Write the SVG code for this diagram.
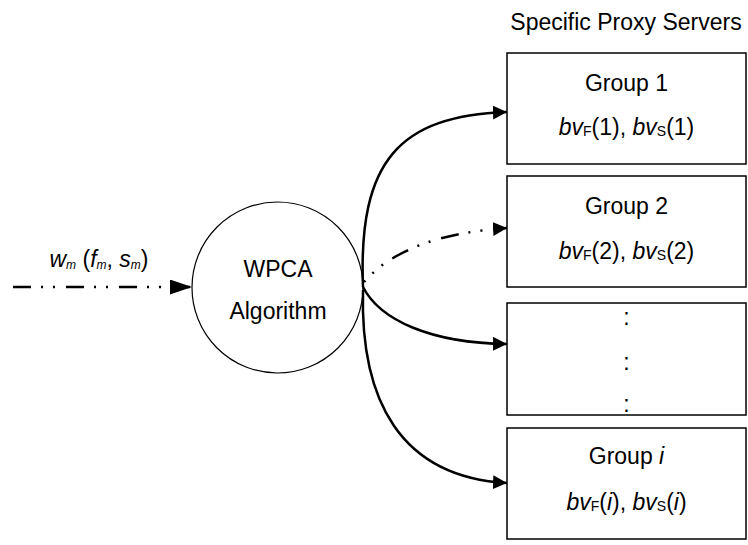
<svg xmlns="http://www.w3.org/2000/svg" width="748" height="545" viewBox="0 0 748 545">
<style>
text{font-family:"Liberation Sans",Arial,sans-serif;fill:#000;font-size:23px}
.c{text-anchor:middle}
.it{font-style:italic}
.sub{font-size:14px}
.sm{font-size:12px;font-style:italic}
.box{fill:#fff;stroke:#000;stroke-width:1.5}
.cv{fill:none;stroke:#000;stroke-width:2.5}
.dd{stroke-dasharray:18 10 2 10 2 11}
</style>
<defs>
<marker id="ah" viewBox="0 0 14 14" refX="14" refY="7" markerWidth="14" markerHeight="14" markerUnits="userSpaceOnUse" orient="auto">
<path d="M0,0 L14,7 L0,14 Z" fill="#000"/>
</marker>
<marker id="ahbig" viewBox="0 0 22 15" refX="22" refY="7.5" markerWidth="22" markerHeight="15" markerUnits="userSpaceOnUse" orient="auto">
<path d="M0,0 L22,7.5 L0,15 Z" fill="#000"/>
</marker>
</defs>
<text x="626" y="30" class="c">Specific Proxy Servers</text>
<g id="input">
<text x="99" y="267" class="c"><tspan class="it">w</tspan><tspan class="sm" dy="2">m</tspan><tspan dy="-2"> (</tspan><tspan class="it">f</tspan><tspan class="sm" dy="2">m</tspan><tspan dy="-2">, </tspan><tspan class="it">s</tspan><tspan class="sm" dy="2">m</tspan><tspan dy="-2">)</tspan></text>
</g>
<g id="wpca">
<circle cx="277.5" cy="287.5" r="85.5" fill="#fff" stroke="#000" stroke-width="1.2"/>
<text x="278" y="277" class="c">WPCA</text>
<text x="278" y="319" class="c">Algorithm</text>
</g>
<g id="group1">
<rect x="507" y="53" width="239" height="111" class="box"/>
<text x="626.5" y="91" class="c">Group 1</text>
<text x="626.5" y="135" class="c"><tspan class="it">bv</tspan><tspan class="sub" dy="1">F</tspan><tspan dy="-1">(1), </tspan><tspan class="it">bv</tspan><tspan class="sub" dy="1">S</tspan><tspan dy="-1">(1)</tspan></text>
</g>
<g id="group2">
<rect x="507" y="176" width="239" height="111" class="box"/>
<text x="626.5" y="214" class="c">Group 2</text>
<text x="626.5" y="259" class="c"><tspan class="it">bv</tspan><tspan class="sub" dy="1">F</tspan><tspan dy="-1">(2), </tspan><tspan class="it">bv</tspan><tspan class="sub" dy="1">S</tspan><tspan dy="-1">(2)</tspan></text>
</g>
<g id="group-dots">
<rect x="507" y="303" width="239" height="112" class="box"/>
<text x="626.5" y="325" class="c">:</text>
<text x="626.5" y="370" class="c">:</text>
<text x="626.5" y="412" class="c">:</text>
</g>
<g id="groupi">
<rect x="507" y="428" width="239" height="111" class="box"/>
<text x="626.5" y="464" class="c">Group <tspan class="it">i</tspan></text>
<text x="626.5" y="510" class="c"><tspan class="it">bv</tspan><tspan class="sub" dy="1">F</tspan><tspan dy="-1">(</tspan><tspan class="it">i</tspan><tspan>), </tspan><tspan class="it">bv</tspan><tspan class="sub" dy="1">S</tspan><tspan dy="-1">(</tspan><tspan class="it">i</tspan><tspan>)</tspan></text>
</g>
<g id="connectors">
<path d="M13,287 L192,287" class="cv dd" marker-end="url(#ahbig)"/>
<path d="M363,287 C358,160 400,116 507,112" class="cv" marker-end="url(#ah)"/>
<path d="M364,282 Q405,235 507,228" class="cv dd" stroke-dashoffset="16" marker-end="url(#ah)"/>
<path d="M363,287 C380,320 430,343 507,344" class="cv" marker-end="url(#ah)"/>
<path d="M363,290 C360,400 400,477 507,483" class="cv" marker-end="url(#ah)"/>
</g>
</svg>
